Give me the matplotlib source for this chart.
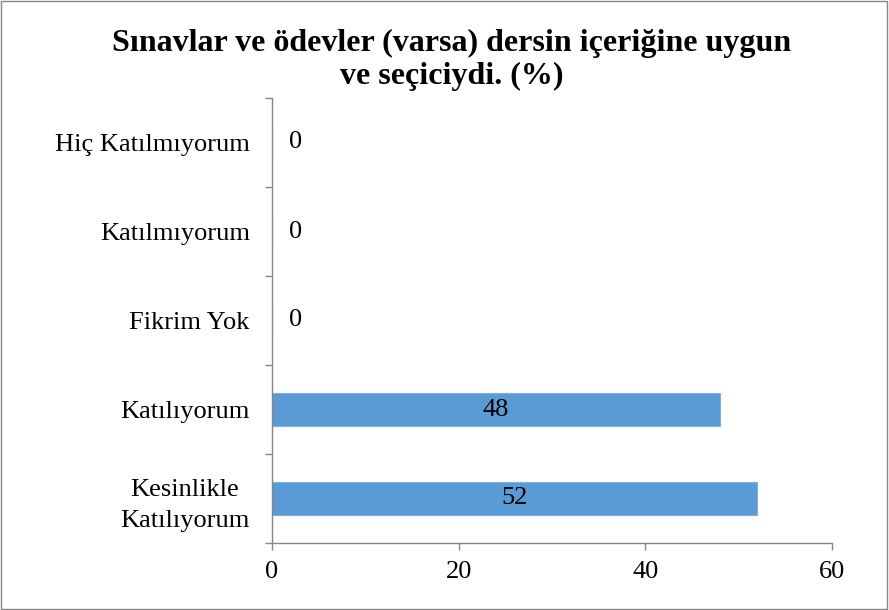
import numpy as np
import matplotlib
matplotlib.use('Agg')
import matplotlib.pyplot as plt
from matplotlib.patches import Rectangle

# data (bottom to top)
categories = ['Kesinlikle\nKatılıyorum', 'Katılıyorum', 'Fikrim Yok', 'Katılmıyorum', 'Hiç Katılmıyorum']
values = [52, 48, 0, 0, 0]
title = 'Sınavlar ve ödevler (varsa) dersin içeriğine uygun\nve seçiciydi. (%)'

plt.rcParams['font.family'] = ['Liberation Serif', 'DejaVu Serif']

fig = plt.figure(figsize=(8.89, 6.10), dpi=100)
ax = fig.add_axes([272/889, 67/610, 560/889, 445/610])

ypos = np.arange(len(categories))
ax.barh(ypos, values, height=0.37, color='#5B9BD5', edgecolor='#7FB0DE', linewidth=0.8)

# value labels
for y, v in zip(ypos, values):
    if v > 0:
        ax.text(v/2, y, str(v), ha='center', va='center', fontsize=19)
    else:
        ax.annotate(str(v), xy=(0, y), xytext=(12, 0), textcoords='offset points',
                    ha='left', va='center', fontsize=19)

ax.set_xlim(0, 60)
ax.set_xticks([0, 20, 40, 60])
ax.set_ylim(-0.5, len(categories) - 0.5)
# tick marks between categories, labels on minor ticks
ax.set_yticks(np.arange(-0.5, len(categories)), labels=[])
ax.set_yticks(ypos, labels=categories, minor=True)
ax.tick_params(axis='y', which='minor', length=0, pad=16, labelsize=19)
ax.tick_params(axis='y', which='major', length=5, color='#868686', width=1)
ax.tick_params(axis='x', length=5, color='#868686', width=1, labelsize=19, pad=8)
for lbl in ax.get_yticklabels(minor=True):
    lbl.set_multialignment('center')
    lbl.set_linespacing(1.55)

for s in ['top', 'right']:
    ax.spines[s].set_visible(False)
for s in ['left', 'bottom']:
    ax.spines[s].set_color('#868686')
    ax.spines[s].set_linewidth(1)

fig.text(0.508, 0.902, title, ha='center', va='center', fontsize=23,
         fontweight='bold', linespacing=1.18)

# figure border
fig.patches.append(Rectangle((0.001, 0.001), 0.997, 0.997, transform=fig.transFigure,
                             fill=False, edgecolor='#868686', linewidth=1))

fig.savefig('out.png', dpi=100)
